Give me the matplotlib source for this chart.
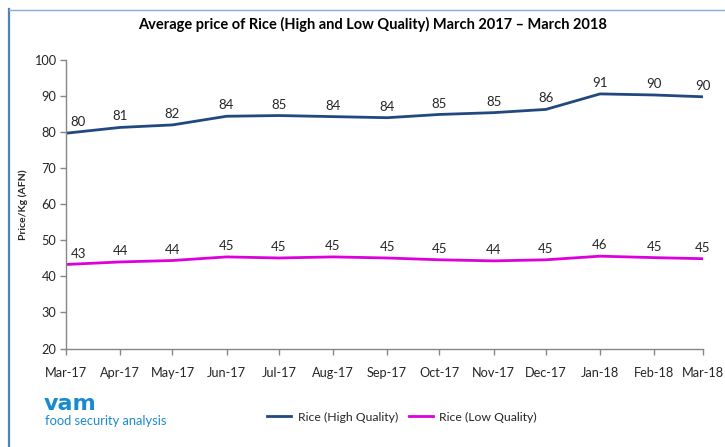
import datetime as dt
import matplotlib
matplotlib.use("Agg")
import matplotlib.pyplot as plt
import matplotlib.dates as mdates
from matplotlib.lines import Line2D

plt.rcParams['font.family'] = ['Lato', 'DejaVu Sans']

# 月（各月1日）
months = [dt.date(2017, m, 1) for m in range(3, 13)] + [dt.date(2018, m, 1) for m in range(1, 4)]
month_labels = ["Mar-17", "Apr-17", "May-17", "Jun-17", "Jul-17", "Aug-17", "Sep-17",
                "Oct-17", "Nov-17", "Dec-17", "Jan-18", "Feb-18", "Mar-18"]

# 価格 (AFN/kg)
high_quality = [79.7, 81.3, 82.0, 84.4, 84.6, 84.3, 84.0, 84.9, 85.4, 86.3, 90.6, 90.3, 89.8]
low_quality = [43.3, 44.0, 44.4, 45.4, 45.1, 45.4, 45.1, 44.6, 44.3, 44.6, 45.6, 45.2, 44.9]

HIGH_COLOR = "#21497f"
LOW_COLOR = "#dd00dd"
GRAY = "#868686"
TEXT = "#262626"

fig = plt.figure(figsize=(7.25, 4.47), dpi=100)
ax = fig.add_axes([66 / 725, 1 - 348.5 / 447, (703 - 66) / 725, (348.5 - 60) / 447])

ax.plot(months, high_quality, color=HIGH_COLOR, linewidth=2.0, label="Rice (High Quality)")
ax.plot(months, low_quality, color=LOW_COLOR, linewidth=2.0, label="Rice (Low Quality)")

# データラベル
for series in (high_quality, low_quality):
    for i, (d, v) in enumerate(zip(months, series)):
        if i == 0:
            ax.annotate(f"{v:.0f}", (mdates.date2num(d), v), xytext=(3.5, 5), textcoords="offset points",
                        ha="left", va="baseline", fontsize=9.5, color=TEXT)
        else:
            ax.annotate(f"{v:.0f}", (mdates.date2num(d), v), xytext=(0, 5), textcoords="offset points",
                        ha="center", va="baseline", fontsize=9.5, color=TEXT)

ax.set_xlim(mdates.date2num(months[0]), mdates.date2num(months[-1]))
ax.set_ylim(20, 100)
ax.set_yticks(range(20, 101, 10))
ax.set_xticks([mdates.date2num(d) for d in months])
ax.set_xticklabels(month_labels)

for side in ("top", "right"):
    ax.spines[side].set_visible(False)
for side in ("left", "bottom"):
    ax.spines[side].set_color(GRAY)
    ax.spines[side].set_linewidth(1.0)
ax.tick_params(axis="both", colors=GRAY, labelcolor=TEXT, labelsize=9.2, length=4, width=1)
ax.tick_params(axis="x", pad=9)
ax.tick_params(axis="y", pad=3)

ax.set_ylabel("Price/Kg (AFN)", fontsize=7.5, fontweight="bold", color=TEXT)
ax.yaxis.set_label_coords(-0.060, 0.5)

fig.text(373 / 725, 1 - 24 / 447, "Average price of Rice (High and Low Quality) March 2017 \u2013 March 2018",
         ha="center", va="center", fontsize=10.5, fontweight="bold", color="black")

fig.legend(loc="center", bbox_to_anchor=(402 / 725, 1 - 417 / 447), ncol=2, frameon=False,
           fontsize=8.8, handlelength=2.0, handletextpad=0.5, columnspacing=0.9,
           labelcolor=TEXT)

# ロゴ
fig.text(44 / 725, 1 - 404 / 447, "vam", fontsize=16, fontweight="bold", color="#1a8ad0",
         ha="left", va="center", family="DejaVu Sans")
fig.text(45 / 725, 1 - 421 / 447, "food security analysis", fontsize=9.3, color="#1a8ad0",
         ha="left", va="center")

# 枠線
fig.add_artist(Line2D([9 / 725, 9 / 725], [0, 1 - 9 / 447], color="#4f81bd", linewidth=1.6,
                      transform=fig.transFigure))
fig.add_artist(Line2D([9 / 725, 1], [1 - 9.5 / 447, 1 - 9.5 / 447], color="#8eaadb", linewidth=1.0,
                      transform=fig.transFigure))

fig.savefig("out.png", dpi=100)
